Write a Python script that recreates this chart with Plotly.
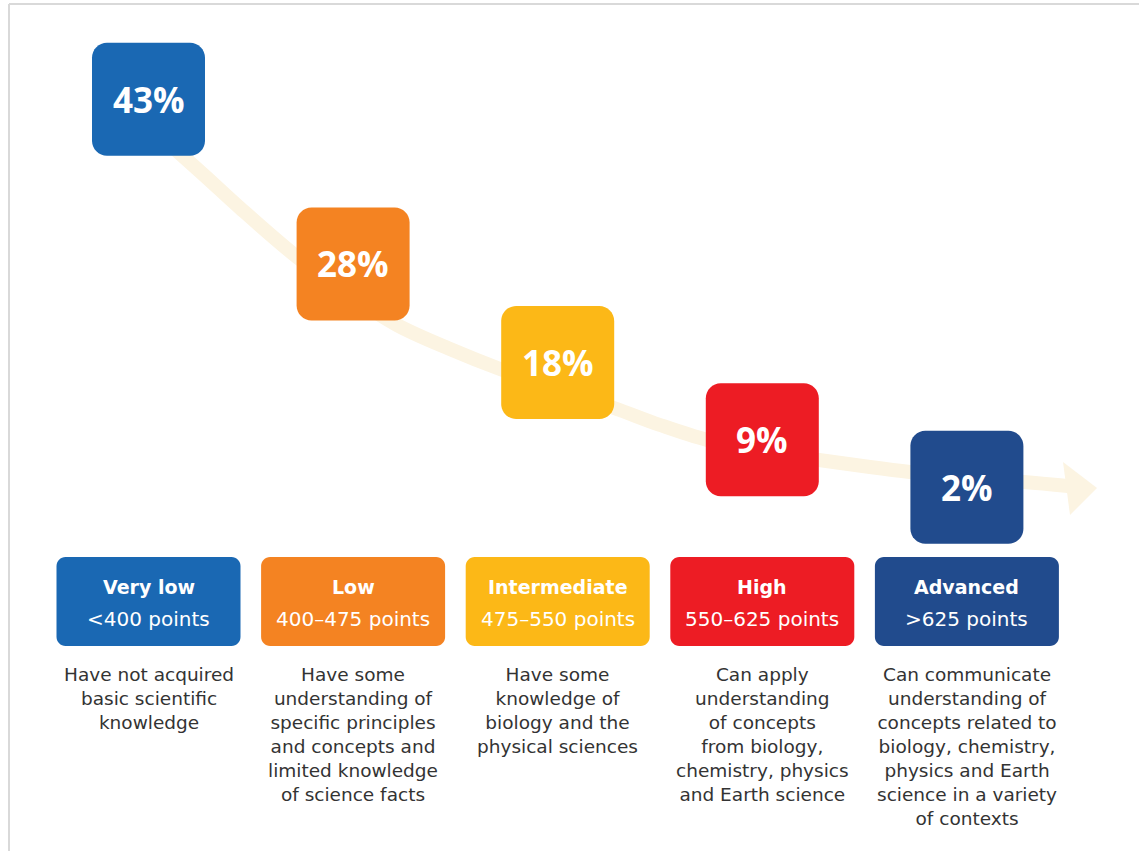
import plotly.graph_objects as go

# ---- data -------------------------------------------------------------
levels = ["Very low", "Low", "Intermediate", "High", "Advanced"]
score_bands = ["<400 points", "400–475 points", "475–550 points",
               "550–625 points", ">625 points"]
shares = [43, 28, 18, 9, 2]
descriptions = [
    "Have not acquired<br>basic scientific<br>knowledge",
    "Have some<br>understanding of<br>specific principles<br>and concepts and<br>limited knowledge<br>of science facts",
    "Have some<br>knowledge of<br>biology and the<br>physical sciences",
    "Can apply<br>understanding<br>of concepts<br>from biology,<br>chemistry, physics<br>and Earth science",
    "Can communicate<br>understanding of<br>concepts related to<br>biology, chemistry,<br>physics and Earth<br>science in a variety<br>of contexts",
]

# ---- style ------------------------------------------------------------
colors = ["#1A68B3", "#F48322", "#FCB817", "#ED1C24", "#214B8D"]
FONT_BIG = "Open Sans"
FONT = "DejaVu Sans"
TEXT_DARK = "#333333"
TRAIL = "#FCF4E2"

W, H = 1139, 851
STEP = 204.6          # px between category centres
FIRST = 148.5         # px of the first category centre
POW = 1.25            # share -> height placement exponent
Y2_RANGE = [-98.6, 137.7]

share_pos = [s ** POW for s in shares]


def px_to_cat(px):
    return (px - FIRST) / STEP


def rounded_rect(w, h, r):
    k = 0.5523 * r
    hw, hh = w / 2, h / 2
    return (
        f"M{-hw + r},{-hh} L{hw - r},{-hh} "
        f"C{hw - r + k},{-hh} {hw},{-hh + r - k} {hw},{-hh + r} "
        f"L{hw},{hh - r} "
        f"C{hw},{hh - r + k} {hw - r + k},{hh} {hw - r},{hh} "
        f"L{-hw + r},{hh} "
        f"C{-hw + r - k},{hh} {-hw},{hh - r + k} {-hw},{hh - r} "
        f"L{-hw},{-hh + r} "
        f"C{-hw},{-hh + r - k} {-hw + r - k},{-hh} {-hw + r},{-hh} Z"
    )


fig = go.Figure()

# decorative trail behind the share boxes
trail_px = [(176, 150), (205, 176), (240, 208), (297, 257), (345, 292),
            (397, 325), (450, 349), (500, 369), (560, 390), (614, 408),
            (660, 425), (707, 440), (760, 451), (819, 460), (870, 467),
            (910, 472), (967, 478), (1024, 482), (1068, 486)]
fig.add_trace(go.Scatter(
    x=[px_to_cat(p[0]) for p in trail_px], y=[p[1] for p in trail_px],
    mode="lines", line=dict(color=TRAIL, width=14, shape="spline"),
    hoverinfo="skip", showlegend=False))
head_px = [(1063, 462), (1097, 488), (1070, 515), (1063, 462)]
fig.add_trace(go.Scatter(
    x=[px_to_cat(p[0]) for p in head_px], y=[p[1] for p in head_px],
    mode="lines", fill="toself", fillcolor=TRAIL, line=dict(width=0, color=TRAIL),
    hoverinfo="skip", showlegend=False))

shapes = []
annotations = []
for i, (lvl, band, share, pos, desc, col) in enumerate(
        zip(levels, score_bands, shares, share_pos, descriptions, colors)):
    # share box, placed by its share on the secondary axis
    shapes.append(dict(type="path", xref="x", yref="y2", xsizemode="pixel",
                       ysizemode="pixel", xanchor=i, yanchor=pos,
                       path=rounded_rect(113, 113, 15), fillcolor=col,
                       line=dict(width=0), layer="above"))
    annotations.append(dict(x=i, y=pos, xref="x", yref="y2",
                            text=f"<b>{share}%</b>", showarrow=False,
                            font=dict(family=FONT_BIG, size=35, color="white")))
    # level box
    shapes.append(dict(type="path", xref="x", yref="y", xsizemode="pixel",
                       ysizemode="pixel", xanchor=i, yanchor=601.5,
                       path=rounded_rect(184, 89, 9), fillcolor=col,
                       line=dict(width=0), layer="above"))
    annotations.append(dict(x=i, y=587, xref="x", yref="y", text=f"<b>{lvl}</b>",
                            showarrow=False,
                            font=dict(family=FONT, size=19, color="white")))
    annotations.append(dict(x=i, y=619, xref="x", yref="y", text=band,
                            showarrow=False,
                            font=dict(family=FONT, size=20, color="white")))
    annotations.append(dict(x=i, y=662, xref="x", yref="y", text=desc,
                            showarrow=False, yanchor="top", align="center",
                            font=dict(family=FONT, size=18.5, color=TEXT_DARK)))

# thin frame along the top and left edges
shapes.append(dict(type="line", xref="paper", yref="y", x0=9 / W, x1=1,
                   y0=4, y1=4, line=dict(color="#D9D9D9", width=2)))
shapes.append(dict(type="line", xref="paper", yref="y", x0=9 / W, x1=9 / W,
                   y0=4, y1=H, line=dict(color="#D9D9D9", width=2)))

fig.update_layout(
    width=W, height=H, margin=dict(l=0, r=0, t=0, b=0),
    paper_bgcolor="white", plot_bgcolor="white",
    xaxis=dict(range=[px_to_cat(0), px_to_cat(W)], visible=False, fixedrange=True),
    yaxis=dict(range=[H, 0], visible=False, fixedrange=True),
    yaxis2=dict(range=Y2_RANGE, overlaying="y", visible=False, fixedrange=True),
    shapes=shapes, annotations=annotations, showlegend=False,
)

fig.write_html("out.html", config={"displayModeBar": False})
